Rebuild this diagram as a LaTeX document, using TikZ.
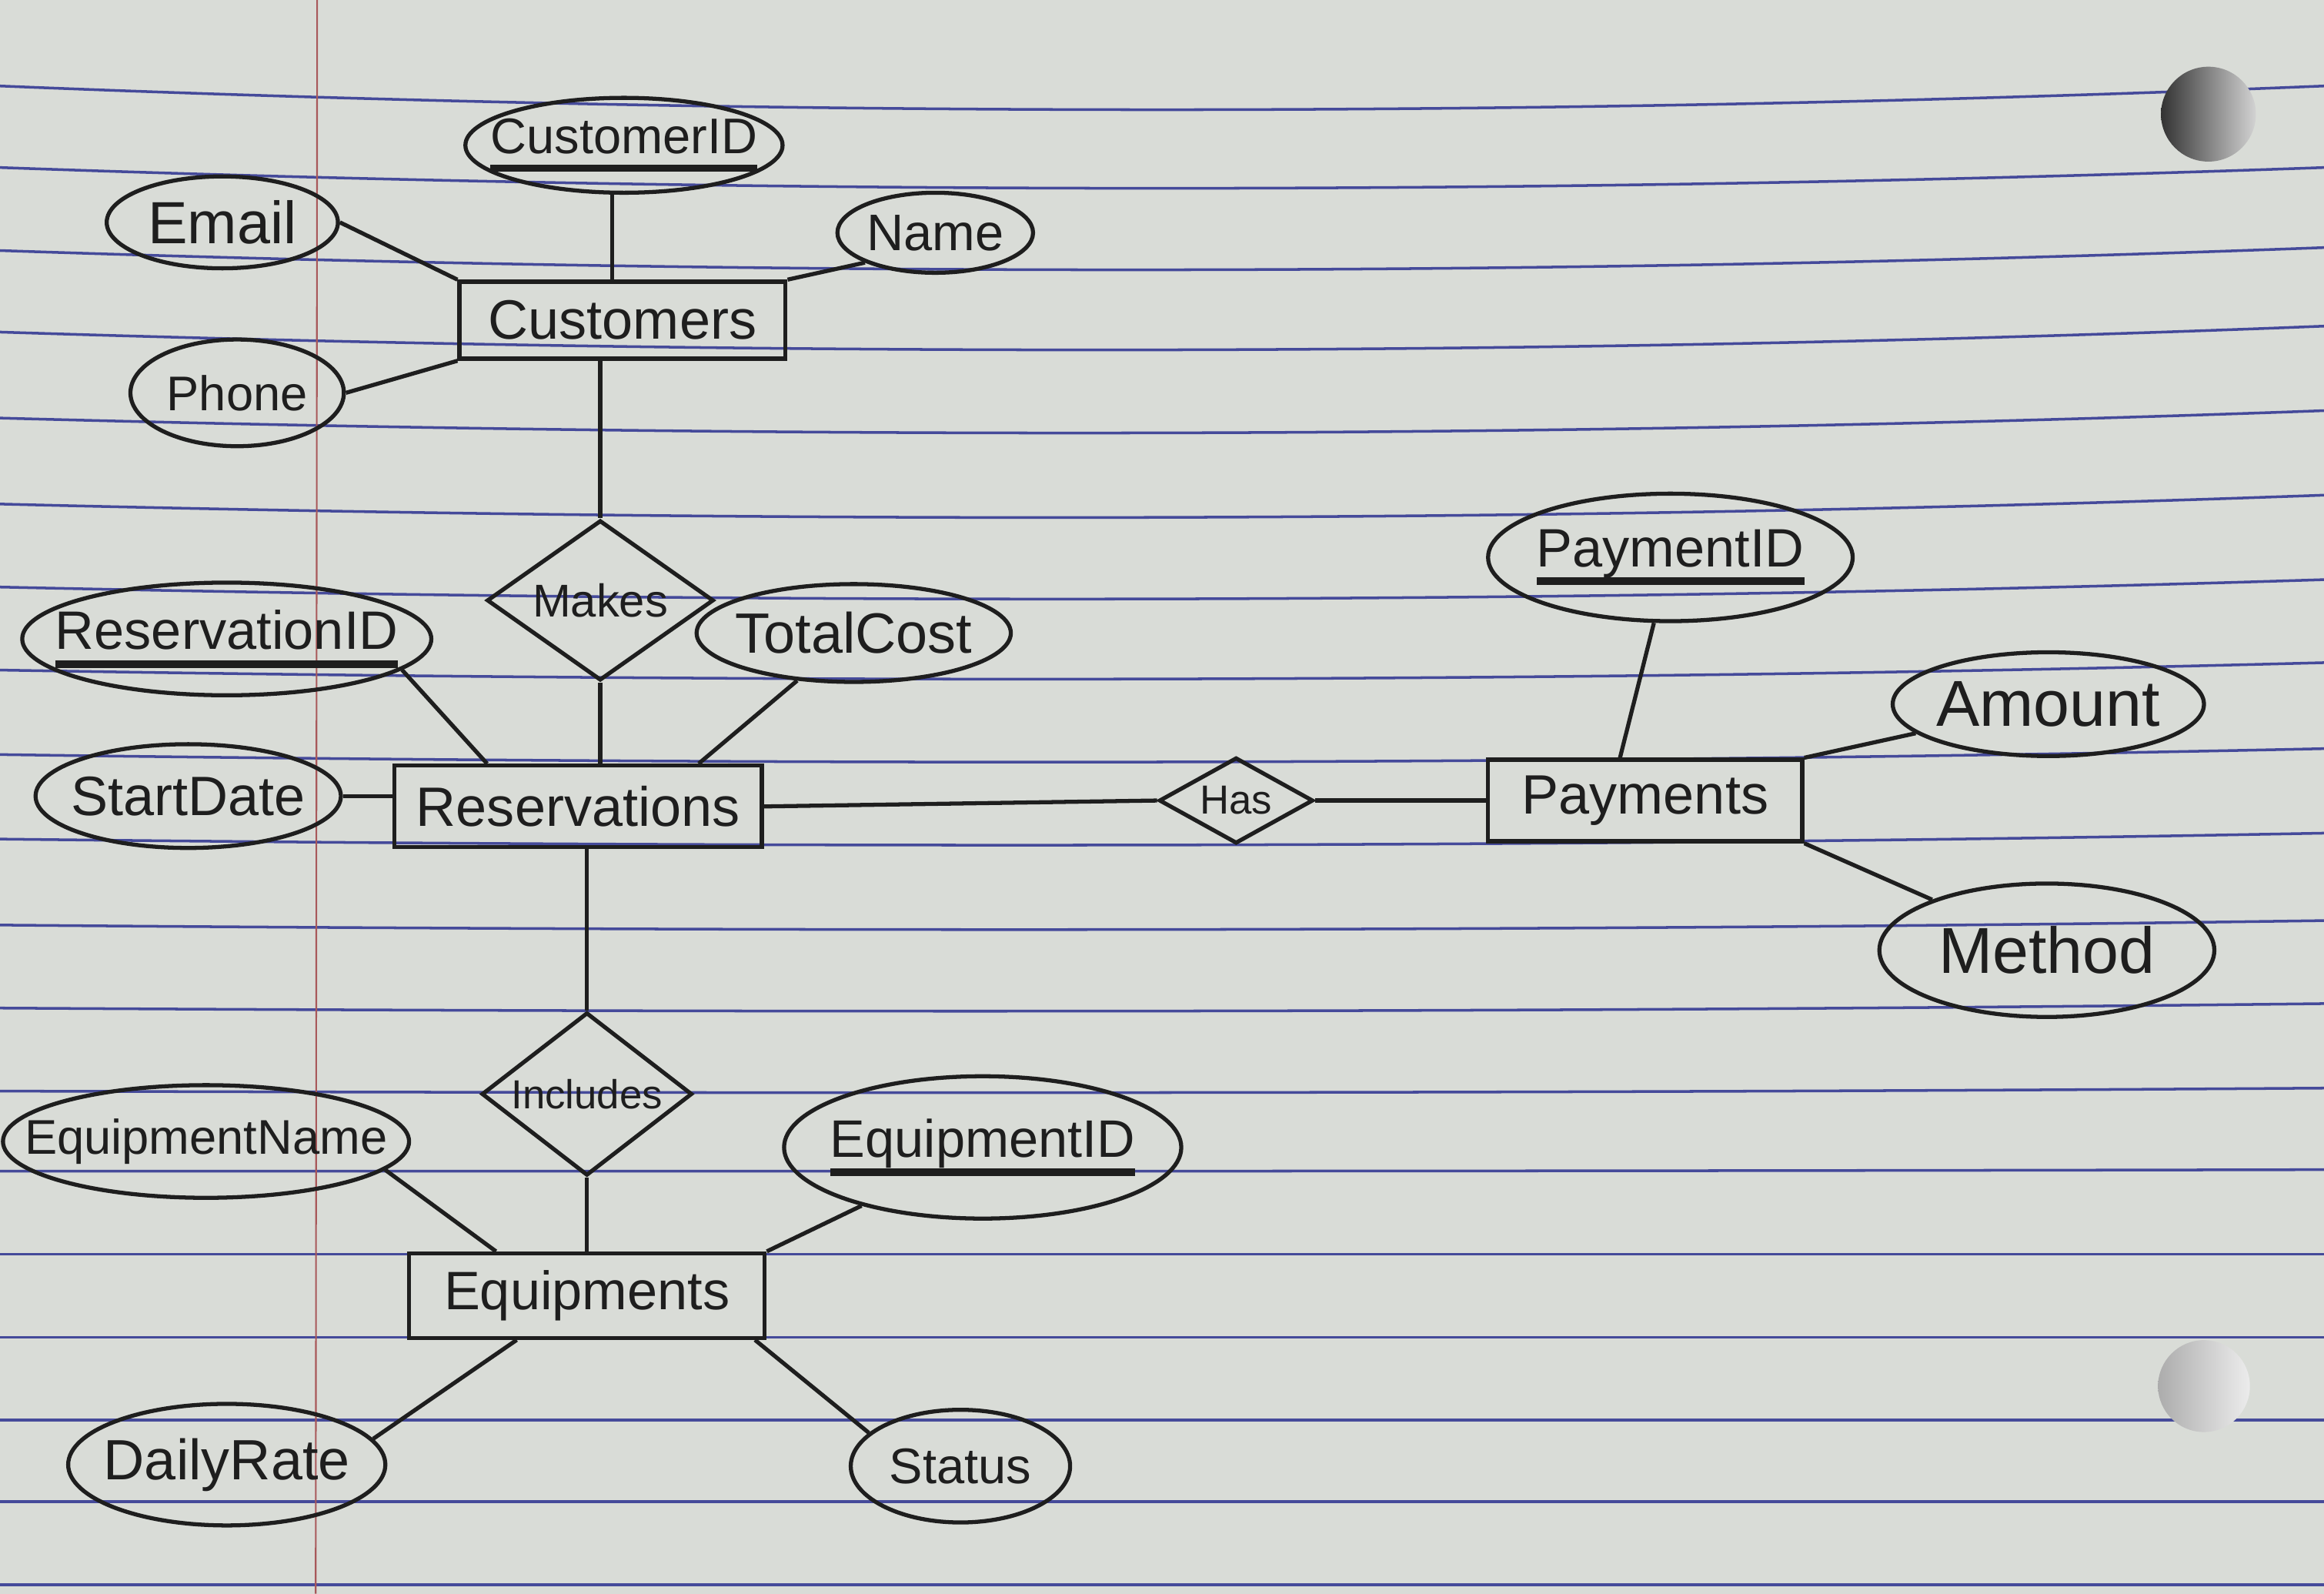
\documentclass[tikz,border=0pt]{standalone}
\usepackage{fontspec}
\setmainfont{Liberation Sans}
\usetikzlibrary{shapes.geometric,calc}
\definecolor{paper}{HTML}{D9DCD7}
\definecolor{rulecol}{HTML}{454A9A}
\definecolor{margincol}{HTML}{A8585A}
\definecolor{ink}{HTML}{1E1E1E}
\def\U{0.01926cm}
\newcommand\Z[1]{\makebox[0pt]{#1}}
\newcommand\keyattr[1]{\setbox0\hbox{#1}\makebox[0pt]{\rlap{\color{ink}\vrule height -4pt depth 6.8pt width \wd0}\box0}}
\tikzset{
  stroke/.style={draw=ink, line width=1.5pt},
  attr/.style n args={2}{ellipse, stroke, inner sep=0pt, text=ink,
    minimum width=#1*\U, minimum height=#2*\U},
  ent/.style n args={2}{rectangle, stroke, inner sep=0pt, text=ink,
    minimum width=#1*\U, minimum height=#2*\U},
  rel/.style n args={2}{diamond, stroke, inner sep=0pt, text=ink, aspect=1.4,
    minimum width=#1*\U, minimum height=#2*\U},
  fs/.style={font=\fontsize{#1}{#1}\selectfont},
  conn/.style={draw=ink, line width=1.5pt},
  paperline/.style={draw=rulecol, line width=1pt},
  marginline/.style={draw=margincol, line width=0.6pt}
}
\begin{document}
\begin{tikzpicture}[x=0.01926cm, y=-0.01926cm]
\useasboundingbox (0,0) rectangle (1568,1075);
\fill[paper] (0,0) rectangle (1568,1075);
% ruled paper
\foreach \L/\b/\r in {58/16/0, 113/14/0, 169/13/-2, 224/12/-4, 282/10/-5, 340/9/-6,
  396/8/-5, 452/6/-5, 509/5/-4, 566/4/-4, 624/3/-3, 680/2/-3, 736/1/-2, 790/0/-1,
  846/0/0, 902/0/0, 958/0/0, 1013/0/0, 1069/0/0} {
  \pgfmathsetmacro\c{(8*\b-\r)/6}
  \draw[paperline] (0,\L) .. controls (523,\L+\c) and (1045,\L+\c) .. (1568,\L+\r);
}
\draw[marginline] (214,0) -- (213,1075);
% punch holes
\shade[left color=gray!40!black, right color=gray!35] (1490,77) circle[radius=32];
\shade[left color=gray!65, right color=gray!15] (1487,935) circle[radius=31];

% Customers
\node[ent={220}{52}, fs=20.5pt] (cust) at (420,216) {\Z{Customers}};
\node[attr={214}{64}, fs=18.5pt] (cid) at (421,98) {\keyattr{CustomerID}};
\node[attr={156}{62}, fs=22pt] (email) at (150,150) {\Z{Email}};
\node[attr={132}{54}, fs=19pt] (name) at (631,157) {\Z{Name}};
\node[attr={144}{72}, fs=18pt] (phone) at (160,265) {\Z{Phone}};
% Makes
\node[rel={153}{108}, fs=17pt] (makes) at (405,405) {\Z{Makes}};
% Reservations
\node[ent={248}{55}, fs=20.5pt] (res) at (390,544) {\Z{Reservations}};
\node[attr={276}{76}, fs=20pt] (resid) at (153,431) {\keyattr{ReservationID}};
\node[attr={212}{66}, fs=21pt] (total) at (576,427) {\Z{TotalCost}};
\node[attr={206}{70}, fs=20.5pt] (start) at (127,537) {\Z{StartDate}};
% Has
\node[rel={104}{58}, fs=15pt] (has) at (834,540) {\Z{Has}};
% Payments
\node[ent={212}{55}, fs=20.5pt] (pay) at (1110,540) {\Z{Payments}};
\node[attr={246}{86}, fs=20pt] (pid) at (1127,376) {\keyattr{PaymentID}};
\node[attr={210}{70}, fs=24pt] (amount) at (1382,475) {\Z{Amount}};
\node[attr={226}{90}, fs=24pt] (method) at (1381,641) {\Z{Method}};
% Includes
\node[rel={142}{110}, fs=15pt] (inc) at (396,738) {\Z{Includes}};
% Equipments
\node[ent={240}{57}, fs=20pt] (equ) at (396,874) {\Z{Equipments}};
\node[attr={274}{76}, fs=18pt] (eqname) at (139,770) {\Z{EquipmentName}};
\node[attr={268}{96}, fs=19.5pt] (eid) at (663,774) {\keyattr{EquipmentID}};
\node[attr={214}{82}, fs=21pt] (daily) at (153,988) {\Z{DailyRate}};
\node[attr={148}{76}, fs=18.5pt] (status) at (648,989) {\Z{Status}};

% connectors
\coordinate (cidfoot) at ([xshift=-8*\U]cid.south);
\draw[conn] (cidfoot) -- (cidfoot |- cust.north);
\draw[conn] (email.east) -- (cust.north west);
\draw[conn] (name.203) -- (cust.north east);
\draw[conn] (phone.east) -- (cust.south west);
\draw[conn] (makes.north |- cust.south) -- (makes.north);

\draw[conn] (resid.-10) -- ([xshift=64*\U]res.north west);
\draw[conn] (makes.south) -- (makes.south |- res.north);
\draw[conn] (total) -- ([xshift=-44*\U]res.north east);
\draw[conn] (start.east) -- (start.east -| res.west);

\draw[conn] (res.east) -- (has.west);
\draw[conn] (has.east) -- (pay.west);
\draw[conn] (pid) -- ([xshift=-17*\U]pay.north);
\draw[conn] (amount) -- (pay.north east);
\draw[conn] (method) -- (pay.south east);

\draw[conn] (inc.north |- res.south) -- (inc.north);
\draw[conn] (inc.south) -- (inc.south |- equ.north);
\draw[conn] (eqname.-9) -- ([xshift=60*\U]equ.north west);
\draw[conn] (eid) -- (equ.north east);
\draw[conn] (daily.10) -- ([xshift=74*\U]equ.south west);
\draw[conn] (status.160) -- ([xshift=-8*\U]equ.south east);
\end{tikzpicture}
\end{document}
